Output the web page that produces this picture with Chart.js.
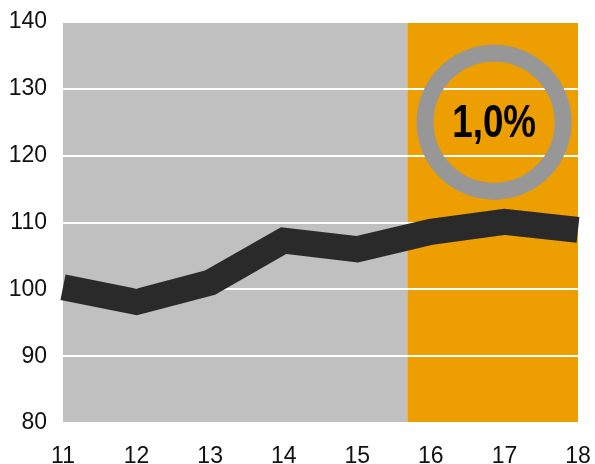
<!DOCTYPE html>
<html>
<head>
<meta charset="utf-8">
<script src="https://cdn.jsdelivr.net/npm/chart.js@4.4.1/dist/chart.umd.min.js"></script>
<style>
  html, body { margin: 0; padding: 0; background: #fff; }
  #wrap { width: 595px; height: 464px; }
</style>
</head>
<body>
<div id="wrap"><canvas id="chart" width="595" height="464"></canvas></div>
<script>
// data
const years = [11, 12, 13, 14, 15, 16, 17, 18];
const values = [100.3, 98.1, 101.0, 107.3, 106.0, 108.6, 110.1, 108.9];
const yTicks = [80, 90, 100, 110, 120, 130, 140];
const forecastFrom = 15.68;          // orange part of the background starts here
const badge = { x: 16.86, y: 125, text: '1,0%' };

const GREY_BG = '#c0c0c0';
const ORANGE_BG = '#ed9e00';

// background split + ring badge
const decor = {
    id: 'decor',
    beforeDraw(chart) {
        const { ctx, chartArea: a, scales: { x } } = chart;
        const split = x.getPixelForValue(forecastFrom);
        ctx.save();
        ctx.fillStyle = GREY_BG;
        ctx.fillRect(a.left, a.top, split - a.left, a.bottom - a.top);
        ctx.fillStyle = ORANGE_BG;
        ctx.fillRect(split, a.top, a.right - split, a.bottom - a.top);
        ctx.restore();
    },
    afterDraw(chart) {
        const { ctx, scales: { x, y } } = chart;
        const cx = x.getPixelForValue(badge.x);
        const cy = y.getPixelForValue(badge.y);
        ctx.save();
        ctx.beginPath();
        ctx.arc(cx, cy, 69, 0, Math.PI * 2);
        ctx.lineWidth = 17;
        ctx.strokeStyle = '#979797';
        ctx.stroke();
        ctx.translate(cx, cy);
        ctx.scale(0.8, 1);
        ctx.fillStyle = '#000';
        ctx.font = 'bold 46px "Liberation Sans", Arial, sans-serif';
        ctx.textAlign = 'center';
        ctx.textBaseline = 'middle';
        ctx.fillText(badge.text, 0, 2);
        ctx.restore();
    }
};

function noOverflow(scale) {
    scale.paddingTop = 0;
    scale.paddingBottom = 0;
    scale.paddingLeft = 0;
    scale.paddingRight = 0;
}

new Chart(document.getElementById('chart').getContext('2d'), {
    type: 'line',
    data: {
        datasets: [{
            data: years.map((yr, i) => ({ x: yr, y: values[i] })),
            borderColor: '#2a2a2a',
            borderWidth: 26,
            borderCapStyle: 'butt',
            borderJoinStyle: 'miter',
            pointRadius: 0,
            tension: 0,
            clip: false
        }]
    },
    options: {
        responsive: false,
        animation: false,
        layout: { padding: { left: 0, right: 17, top: 22, bottom: 0 } },
        plugins: {
            legend: { display: false },
            tooltip: { enabled: false }
        },
        scales: {
            x: {
                type: 'linear',
                min: 11,
                max: 18,
                grid: { display: false },
                border: { display: false },
                ticks: {
                    stepSize: 1,
                    padding: 12,
                    color: '#111',
                    font: { family: '"Liberation Sans", Arial, sans-serif', size: 23 }
                },
                afterFit(scale) { scale.height = 41; noOverflow(scale); }
            },
            y: {
                min: 80,
                max: 140,
                afterBuildTicks(scale) { scale.ticks = yTicks.map(v => ({ value: v })); },
                grid: {
                    color: '#ffffff',
                    lineWidth: 2,
                    drawTicks: false
                },
                border: { display: false },
                ticks: {
                    padding: 16,
                    color: '#111',
                    font: { family: '"Liberation Sans", Arial, sans-serif', size: 23 }
                },
                afterFit(scale) { scale.width = 63; noOverflow(scale); }
            }
        }
    },
    plugins: [decor]
});
</script>
</body>
</html>
